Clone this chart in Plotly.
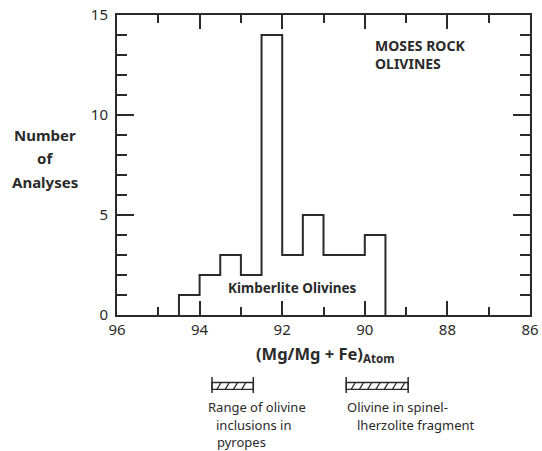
import plotly.graph_objects as go

# ---- data ----
bin_edges = [94.5, 94.0, 93.5, 93.0, 92.5, 92.0, 91.5, 91.0, 90.5, 90.0, 89.5]
counts = [1, 2, 3, 2, 14, 3, 5, 3, 3, 4]
x_ticks = [96, 94, 92, 90, 88, 86]
y_ticks = [0, 5, 10, 15]
pyrope_range = [93.7, 92.7]
spinel_range = [90.45, 88.95]

INK = "#2a2a2a"
FONT = "Noto Sans"

# histogram outline as a step line
step_x = [bin_edges[0]] + bin_edges[1:] + [bin_edges[-1]]
step_y = [0] + counts + [0]

fig = go.Figure()
fig.add_trace(go.Scatter(
    x=step_x, y=step_y, mode="lines", line=dict(color=INK, width=2, shape="vh"),
    hoverinfo="skip", showlegend=False))

# ---- hatched range bars below the axis ----
shapes = []
bar_top, bar_bot = -0.225, -0.248
cap_top, cap_bot = -0.207, -0.26
for rng in (pyrope_range, spinel_range):
    a, b = rng
    shapes.append(dict(type="rect", xref="x", yref="paper", x0=a, x1=b,
                       y0=bar_bot, y1=bar_top, line=dict(color=INK, width=1.3)))
    for xc in (a, b):
        shapes.append(dict(type="line", xref="x", yref="paper", x0=xc, x1=xc,
                           y0=cap_bot, y1=cap_top, line=dict(color=INK, width=1.5)))
    step = 0.2
    xs = a - 0.12
    while xs - 0.1 > b - 0.01:
        shapes.append(dict(type="line", xref="x", yref="paper", x0=xs, x1=xs - 0.1,
                           y0=bar_bot, y1=bar_top, line=dict(color=INK, width=1.3)))
        xs -= step

annotations = []
def note(text, x, y, size=12, bold=False, xanchor="center", yanchor="middle", color=INK, align="center"):
    if bold:
        text = "<b>" + text + "</b>"
    annotations.append(dict(text=text, x=x, y=y, xref="paper", yref="paper",
                            showarrow=False, xanchor=xanchor, yanchor=yanchor, align=align,
                            font=dict(family=FONT, size=size, color=color)))

note("MOSES ROCK<br>OLIVINES", 0.620, 0.87, size=14, bold=True, xanchor="left", align="left")
note("Kimberlite Olivines", 0.426, 0.09, size=13.5, bold=True)
note("Number", -0.174, 0.60, size=15, bold=True)
note("of", -0.174, 0.523, size=15, bold=True)
note("Analyses", -0.174, 0.443, size=15, bold=True)
note("(Mg/Mg + Fe)<sub>Atom</sub>", 0.504, -0.13, size=16.5, bold=True)
note("Range of olivine", (206 - 117) / 413, -0.305, size=13, xanchor="left")
note("inclusions in", (214 - 117) / 413, -0.365, size=13, xanchor="left")
note("pyropes", (215 - 117) / 413, -0.422, size=13, xanchor="left")
note("Olivine in spinel-", (345 - 117) / 413, -0.305, size=13, xanchor="left")
note("lherzolite fragment", (355 - 117) / 413, -0.365, size=13, xanchor="left")

fig.update_layout(
    width=542, height=451,
    margin=dict(l=117, r=12, t=15, b=136, autoexpand=False),
    paper_bgcolor="white", plot_bgcolor="white",
    shapes=shapes, annotations=annotations,
    font=dict(family=FONT, color=INK),
    xaxis=dict(range=[96, 86], tickvals=x_ticks, ticktext=[str(v) for v in x_ticks],
               ticks="inside", ticklen=14, tickwidth=1.5, tickcolor=INK, automargin=False,
               minor=dict(dtick=1, tick0=86, ticks="inside", ticklen=8, tickwidth=1.5, tickcolor=INK),
               showline=True, linecolor=INK, linewidth=2, mirror="ticks",
               showgrid=False, zeroline=False,
               tickfont=dict(family=FONT, size=15, color=INK)),
    yaxis=dict(range=[0, 15], tickvals=y_ticks, ticktext=[str(v) for v in y_ticks],
               ticks="inside", ticklen=17, tickwidth=1.5, tickcolor=INK, automargin=False,
               minor=dict(dtick=1, tick0=0, ticks="inside", ticklen=10, tickwidth=1.5, tickcolor=INK),
               showline=True, linecolor=INK, linewidth=2, mirror="ticks",
               showgrid=False, zeroline=False, ticklabelstandoff=4,
               tickfont=dict(family=FONT, size=15, color=INK)),
)

fig.write_html("out.html", config={"displayModeBar": False},
               post_script="document.body.style.margin='0';")
